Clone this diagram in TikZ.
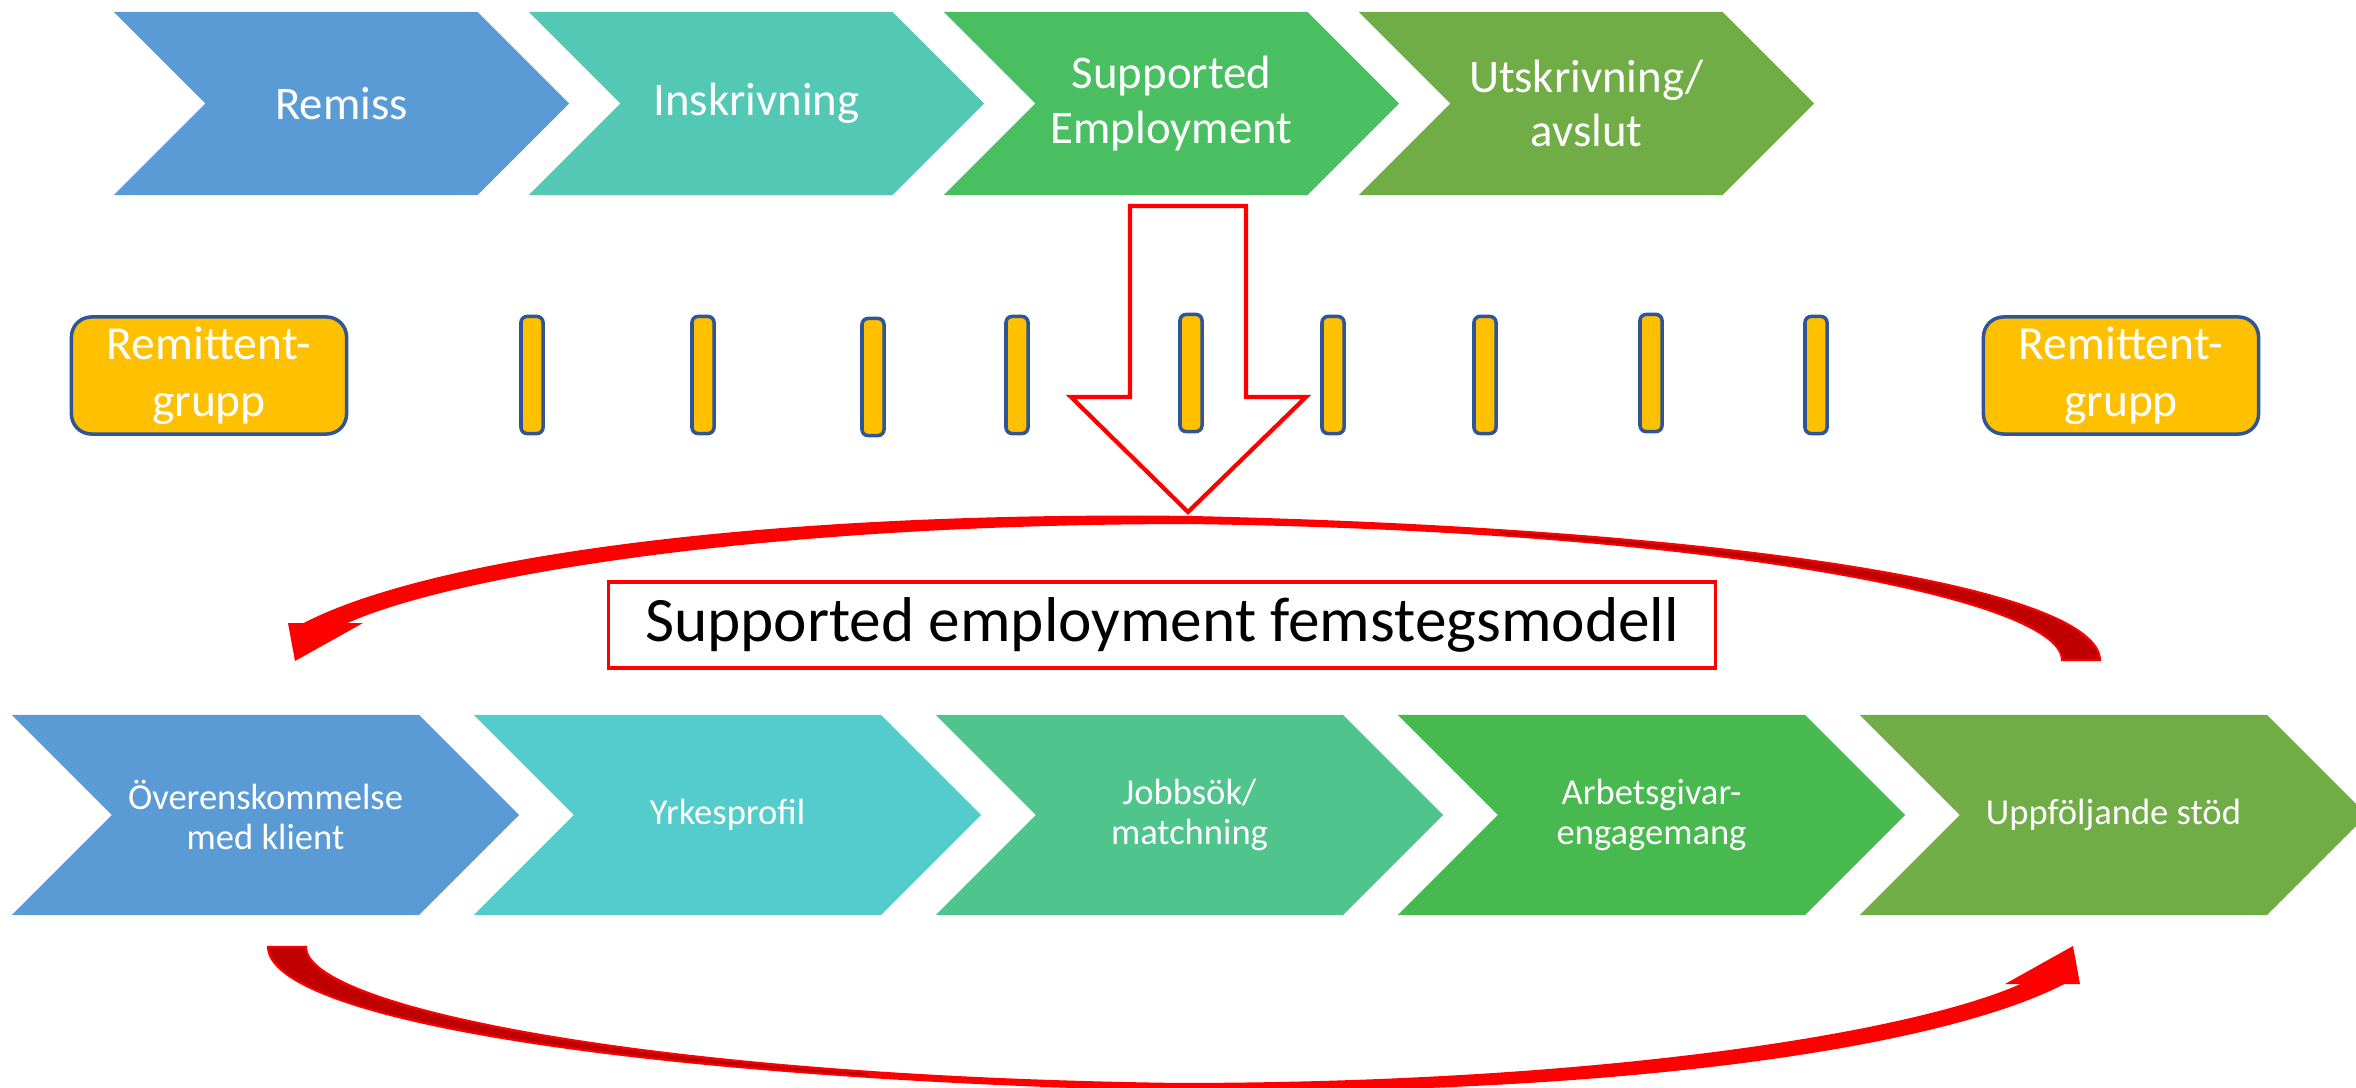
\documentclass[tikz,border=0pt]{standalone}
\usepackage{fontspec}
\setmainfont{Carlito}
\usetikzlibrary{shapes.symbols,positioning}

\definecolor{stepblue}{HTML}{5B9BD5}
\definecolor{stepteal}{HTML}{53C8B5}
\definecolor{stepgreen}{HTML}{4ABF62}
\definecolor{stepolive}{HTML}{70AD47}
\definecolor{stepcyan}{HTML}{55CCCC}
\definecolor{stepmint}{HTML}{4FC48C}
\definecolor{steplime}{HTML}{47B94F}
\definecolor{groupgold}{HTML}{FFC000}
\definecolor{groupedge}{HTML}{2F5597}
\definecolor{arcdark}{HTML}{C00000}

\newcommand{\cyclearc}{(2100,660) .. controls (2098,590) and (1750,530) .. (1190,517) .. controls (750,512) and (430,560) .. (306,623) -- (345,623) .. controls (450,575) and (760,523) .. (1190,523) .. controls (1720,530) and (2062,600) .. (2062,660) -- cycle}

\begin{document}
\begin{tikzpicture}[
    x=0.01cm, y=-0.01cm,
    phase/.style={signal, signal from=west, signal to=east, signal pointer angle=90, minimum width=4.55cm, minimum height=1.83cm, inner sep=0pt, text=white, align=center, font=\fontsize{13.3}{15.5}\selectfont},
    fivestep/.style={phase, minimum width=5.07cm, minimum height=2cm, font=\fontsize{10.4}{11.5}\selectfont},
    group/.style={rectangle, rounded corners=0.2cm, draw=groupedge, line width=1pt, fill=groupgold, text=white, minimum width=2.75cm, minimum height=1.17cm, inner sep=0pt, align=center, font=\fontsize{13.5}{16.2}\selectfont},
    tick/.style={rectangle, rounded corners=0.06cm, draw=groupedge, line width=1pt, fill=groupgold, minimum width=0.22cm, minimum height=1.17cm, inner sep=0pt},
    title/.style={rectangle, draw=red, line width=1pt, minimum width=11.06cm, minimum height=0.86cm, font=\fontsize{18}{21}\selectfont},
    bigarrow/.style={draw=red, line width=1.2pt, fill=white},
    arcback/.style={fill=arcdark, draw=red, line width=0.6pt},
    arcfront/.style={fill=red}
]
\useasboundingbox (0,0) rectangle (2356,1088);

% Process - top row
\node[phase, fill=stepblue] (remiss) at (341.5,103.5) {Remiss};
\node[phase, fill=stepteal] (inskr) at (756.5,103.5) {Inskrivning};
\node[phase, fill=stepgreen] (suppemp) at (1171.5,103.5) {Supported\\Employment};
\node[phase, fill=stepolive] (utskr) at (1586.5,103.5) {Utskrivning/\\avslut};

% Zoom arrow
\draw[bigarrow] (1130,206) -- (1246,206) -- (1246,397) -- (1306,397) -- (1188,512) -- (1071,397) -- (1130,397) -- cycle;

% Remittent groups and meetings
\node[group] (groupleft) at (209,375.5) {Remittent-\\grupp};
\node[group] (groupright) at (2121,375.5) {Remittent-\\grupp};
\foreach \bx/\by [count=\i] in {532/375,703/375,873/377,1017/375,1191/373,1333/375,1485/375,1651/373,1816/375}
    \node[tick] (meet\i) at (\bx,\by) {};

% Five-step model
\node[title] (model) at (1162,625) {Supported employment femstegsmodell};

\node[fivestep, fill=stepblue] (agree) at (265.5,815) {Överenskommelse\\med klient};
\node[fivestep, fill=stepcyan] (profile) at (727.5,815) {Yrkesprofil};
\node[fivestep, fill=stepmint] (jobsearch) at (1189.5,815) {Jobbsök/\\matchning};
\node[fivestep, fill=steplime] (employer) at (1651.5,815) {Arbetsgivar-\\engagemang};
\node[fivestep, fill=stepolive] (followup) at (2113.5,815) {Uppföljande stöd};

% Cycle arrows
\filldraw[arcback] \cyclearc;
\begin{scope}
    \clip (0,0) rectangle (1500,1088);
    \fill[arcfront] \cyclearc;
\end{scope}
\fill[arcfront] (288,623) -- (363,623) -- (295,661) -- cycle;

\begin{scope}[rotate around={180:(1184,803.5)}]
    \filldraw[arcback] \cyclearc;
    \begin{scope}
        \clip (0,0) rectangle (1500,1088);
        \fill[arcfront] \cyclearc;
    \end{scope}
    \fill[arcfront] (288,623) -- (363,623) -- (295,661) -- cycle;
\end{scope}

\end{tikzpicture}
\end{document}
